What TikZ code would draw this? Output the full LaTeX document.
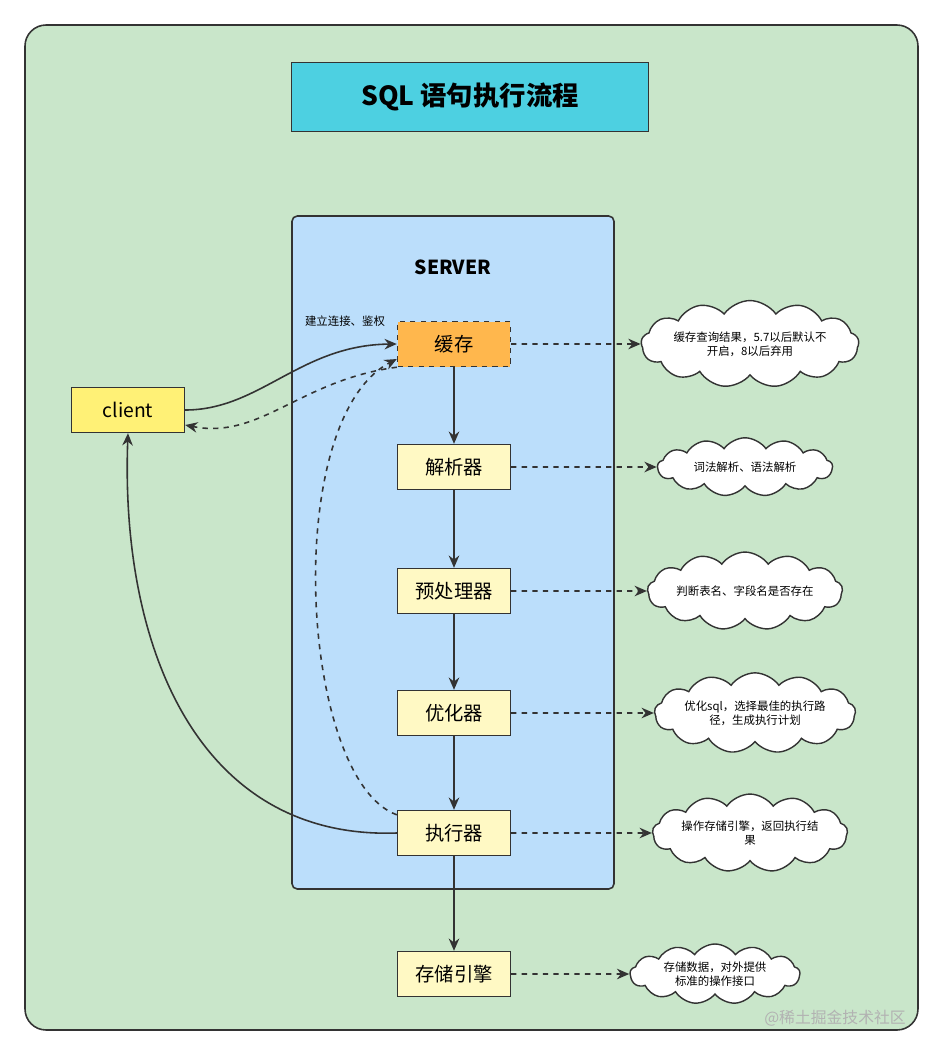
\documentclass[tikz,border=0pt]{standalone}
\usepackage{fontspec}
\setmainfont{Noto Sans CJK SC}
\usetikzlibrary{arrows.meta,shapes.symbols}
\definecolor{bggreen}{HTML}{C9E6CA}
\definecolor{titlecyan}{HTML}{4DD0E1}
\definecolor{srvblue}{HTML}{BBDEFB}
\definecolor{cacheor}{HTML}{FFB74D}
\definecolor{stepy}{HTML}{FFF9C4}
\definecolor{clienty}{HTML}{FFF176}
\definecolor{ln}{HTML}{333333}
\begin{document}
\begin{tikzpicture}[x=0.02cm,y=-0.02cm,
  stg/.style={draw=ln,line width=0.8pt,fill=stepy,minimum width=2.26cm,minimum height=0.9cm,font=\fontsize{11}{13}\selectfont},
  cl/.style={cloud,cloud puffs=13,cloud puff arc=110,aspect=3.5,draw=ln,line width=0.8pt,fill=white,align=center,inner sep=0pt,font=\fontsize{6.5}{8}\selectfont},
  ar/.style={-{Stealth[length=7pt,width=6pt]},draw=ln,line width=0.9pt},
  da/.style={ar,dashed}]
\useasboundingbox (0,0) rectangle (943,1055);
\draw[ln,line width=0.9pt,fill=bggreen,rounded corners=12pt] (25,25) rectangle (918,1030);
\node[draw=ln,line width=0.9pt,fill=titlecyan,minimum width=7.14cm,minimum height=1.38cm,font=\fontsize{15}{18}\selectfont\bfseries] (title) at (470,97) {SQL 语句执行流程};
\draw[ln,line width=0.9pt,fill=srvblue,rounded corners=3pt] (292,216) rectangle (614,889);
\node[font=\fontsize{11}{13}\selectfont\bfseries] (srv) at (453,267) {SERVER};
\node[stg,fill=cacheor,dashed] (cache) at (454,344) {缓存};
\node[stg] (parse) at (454,467) {解析器};
\node[stg] (pre) at (454,591) {预处理器};
\node[stg] (opt) at (454,713) {优化器};
\node[stg] (exe) at (454,833) {执行器};
\node[stg] (eng) at (454,974) {存储引擎};
\node[stg,fill=clienty] (client) at (128,410) {client};
\node[font=\fontsize{6.5}{8}\selectfont] (lbl) at (345,321) {建立连接、鉴权};
\node[cl,minimum width=3.9cm,minimum height=1.15cm] (c1) at (750,344) {缓存查询结果，5.7以后默认不\\开启，8以后弃用};
\node[cl,minimum width=3.5cm,minimum height=1.1cm] (c2) at (745,467) {词法解析、语法解析};
\node[cl,minimum width=3.7cm,minimum height=0.95cm] (c3) at (745,591) {判断表名、字段名是否存在};
\node[cl,minimum width=3.9cm,minimum height=1.2cm] (c4) at (755,713) {优化sql，选择最佳的执行路\\径，生成执行计划};
\node[cl,minimum width=3.8cm,minimum height=1.1cm] (c5) at (750,833) {操作存储引擎，返回执行结\\果};
\node[cl,minimum width=3.4cm,minimum height=1.2cm] (c6) at (715,974) {存储数据，对外提供\\标准的操作接口};
\draw[ar] (cache) -- (parse);
\draw[ar] (parse) -- (pre);
\draw[ar] (pre) -- (opt);
\draw[ar] (opt) -- (exe);
\draw[ar] (exe) -- (eng);
\draw[da] (cache) -- (c1.west);
\draw[da] (parse) -- (c2.west);
\draw[da] (pre) -- (c3.west);
\draw[da] (opt) -- (c4.west);
\draw[da] (exe) -- (c5.west);
\draw[da] (eng) -- (c6.west);
\draw[ar] (client.east) .. controls (260,410) and (300,345) .. (cache.west);
\draw[da] (cache.south west) .. controls (300,380) and (260,440) .. ([yshift=-0.3cm]client.east);
\draw[da] ([yshift=-0.1cm]exe.north west) .. controls (300,780) and (280,420) .. ([yshift=-0.3cm]cache.west);
\draw[ar] (exe.west) .. controls (200,840) and (120,650) .. (client.south);
\node[text=gray!60,font=\fontsize{9}{11}\selectfont] (wm) at (835,1018) {@稀土掘金技术社区};
\end{tikzpicture}
\end{document}
